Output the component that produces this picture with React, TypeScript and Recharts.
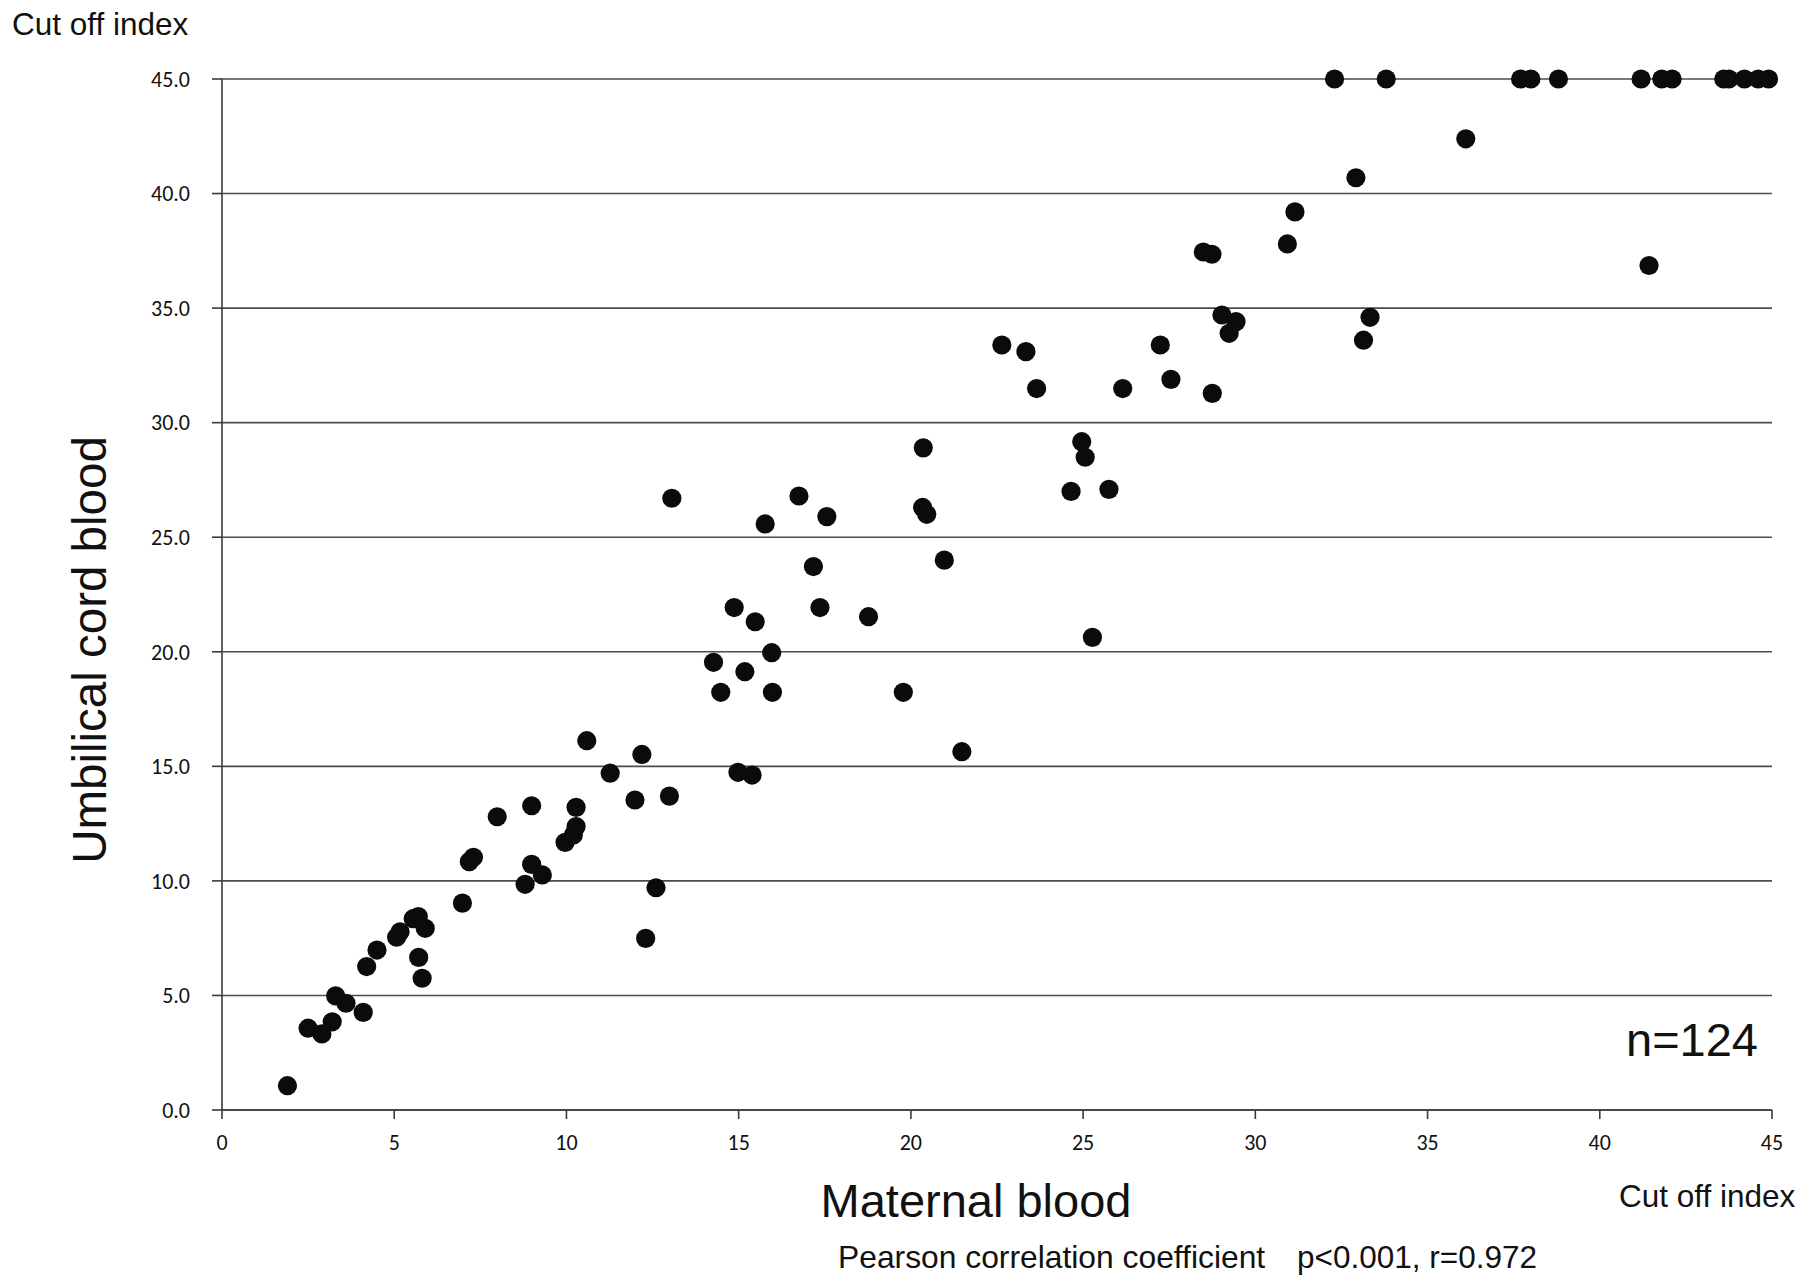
import React from 'react';
import { ScatterChart, Scatter, XAxis, YAxis, CartesianGrid } from 'recharts';

// Maternal blood cut off index (x)
const maternal = [
  1.9, 2.5, 2.9, 3.2, 3.3, 3.6, 4.1, 4.2, 4.5, 5.07, 5.17, 5.55, 5.7, 5.9, 5.71, 5.81,
  6.98, 7.18, 7.3, 7.99, 8.8, 8.99, 8.99, 9.3, 9.96, 10.2, 10.28, 10.28, 10.59, 11.27,
  11.99, 12.19, 12.6, 12.3, 12.99, 13.06, 14.87, 15.48, 14.27, 15.18, 15.96, 14.48, 15.98,
  14.98, 15.39, 15.77, 16.75, 17.56, 17.17, 17.36, 18.77, 19.78, 21.48, 20.34, 20.46,
  20.97, 20.36, 22.64, 23.34, 23.65, 24.96, 25.06, 24.65, 25.75, 25.27, 26.15, 27.24,
  27.55, 28.75, 29.03, 29.44, 29.24, 33.33, 33.14, 28.49, 28.74, 30.93, 36.11, 32.92,
  41.43, 31.15, 32.3, 33.8, 37.7, 38.0, 38.8, 41.2, 41.8, 42.1, 43.6, 43.75, 44.2, 44.6, 44.9,
];

// Umbilical cord blood cut off index (y)
const umbilical = [
  1.06, 3.57, 3.32, 3.85, 4.98, 4.66, 4.26, 6.26, 6.98, 7.54, 7.78, 8.35, 8.44, 7.93, 6.66, 5.75,
  9.03, 10.84, 11.03, 12.8, 9.85, 13.28, 10.72, 10.26, 11.68, 12.0, 12.37, 13.21, 16.12, 14.7,
  13.53, 15.52, 9.7, 7.49, 13.7, 26.7, 21.93, 21.31, 19.54, 19.13, 19.96, 18.23, 18.23,
  14.74, 14.62, 25.58, 26.8, 25.9, 23.72, 21.93, 21.53, 18.23, 15.64, 26.3, 26.0,
  24.0, 28.9, 33.39, 33.1, 31.49, 29.17, 28.49, 27.0, 27.09, 20.63, 31.49, 33.39,
  31.89, 31.28, 34.7, 34.41, 33.9, 34.6, 33.6, 37.45, 37.35, 37.8, 42.39, 40.69,
  36.86, 39.2, 45, 45, 45, 45, 45, 45, 45, 45, 45, 45, 45, 45, 45,
];

const xTicks = [0, 5, 10, 15, 20, 25, 30, 35, 40, 45];
const yTicks = [0, 5, 10, 15, 20, 25, 30, 35, 40, 45];

const data = maternal.map((x, i) => ({ x, y: umbilical[i] }));

const W = 1803;
const H = 1278;
const tickFont = 'Carlito, Lato, "Open Sans", sans-serif';
const labelFont = '"Liberation Sans", Arial, sans-serif';

const Dot = (props: any) => {
  const { cx, cy } = props;
  if (cx == null || cy == null) return null;
  return <circle cx={cx} cy={cy} r={9.6} fill="#0b0b0b" />;
};

export default function App() {
  return (
    <div style={{ position: 'relative', width: W, height: H, background: '#fff' }}>
      <style>{'body{margin:0;background:#fff}'}</style>
      <ScatterChart width={W} height={H} margin={{ top: 79, right: 31, bottom: 138, left: 162 }}>
        <CartesianGrid vertical={false} stroke="#4d4d4d" strokeWidth={1.6} />
        <XAxis
          dataKey="x"
          type="number"
          domain={[0, 45]}
          ticks={xTicks}
          height={30}
          tickSize={9}
          tickMargin={15}
          axisLine={{ stroke: '#3a3a3a', strokeWidth: 1.6 }}
          tickLine={{ stroke: '#3a3a3a', strokeWidth: 1.6 }}
          tick={{ fill: '#111', fontSize: 22, fontFamily: tickFont }}
        />
        <YAxis
          dataKey="y"
          type="number"
          domain={[0, 45]}
          ticks={yTicks}
          width={60}
          tickSize={10}
          tickMargin={22}
          tickFormatter={(v: number) => v.toFixed(1)}
          axisLine={{ stroke: '#3a3a3a', strokeWidth: 1.6 }}
          tickLine={{ stroke: '#3a3a3a', strokeWidth: 1.6 }}
          tick={{ fill: '#111', fontSize: 22, fontFamily: tickFont }}
        />
        <Scatter data={data} fill="#0b0b0b" isAnimationActive={false} shape={Dot} />
      </ScatterChart>
      <svg
        width={W}
        height={H}
        style={{ position: 'absolute', left: 0, top: 0, pointerEvents: 'none' }}
      >
        <g fontFamily={labelFont} fill="#111">
          <text x={12} y={35} fontSize={31.5}>Cut off index</text>
          <text x={105.5} y={650} fontSize={47.5} textAnchor="middle" transform="rotate(-90 105.5 650)">
            Umbilical cord blood
          </text>
          <text x={976} y={1217} fontSize={47} textAnchor="middle">Maternal blood</text>
          <text x={1619} y={1207} fontSize={31.5}>Cut off index</text>
          <text x={1626} y={1056} fontSize={47}>n=124</text>
          <text x={838} y={1268} fontSize={31.8}>Pearson correlation coefficient</text>
          <text x={1297} y={1268} fontSize={31.5}>p&lt;0.001, r=0.972</text>
        </g>
      </svg>
    </div>
  );
}
